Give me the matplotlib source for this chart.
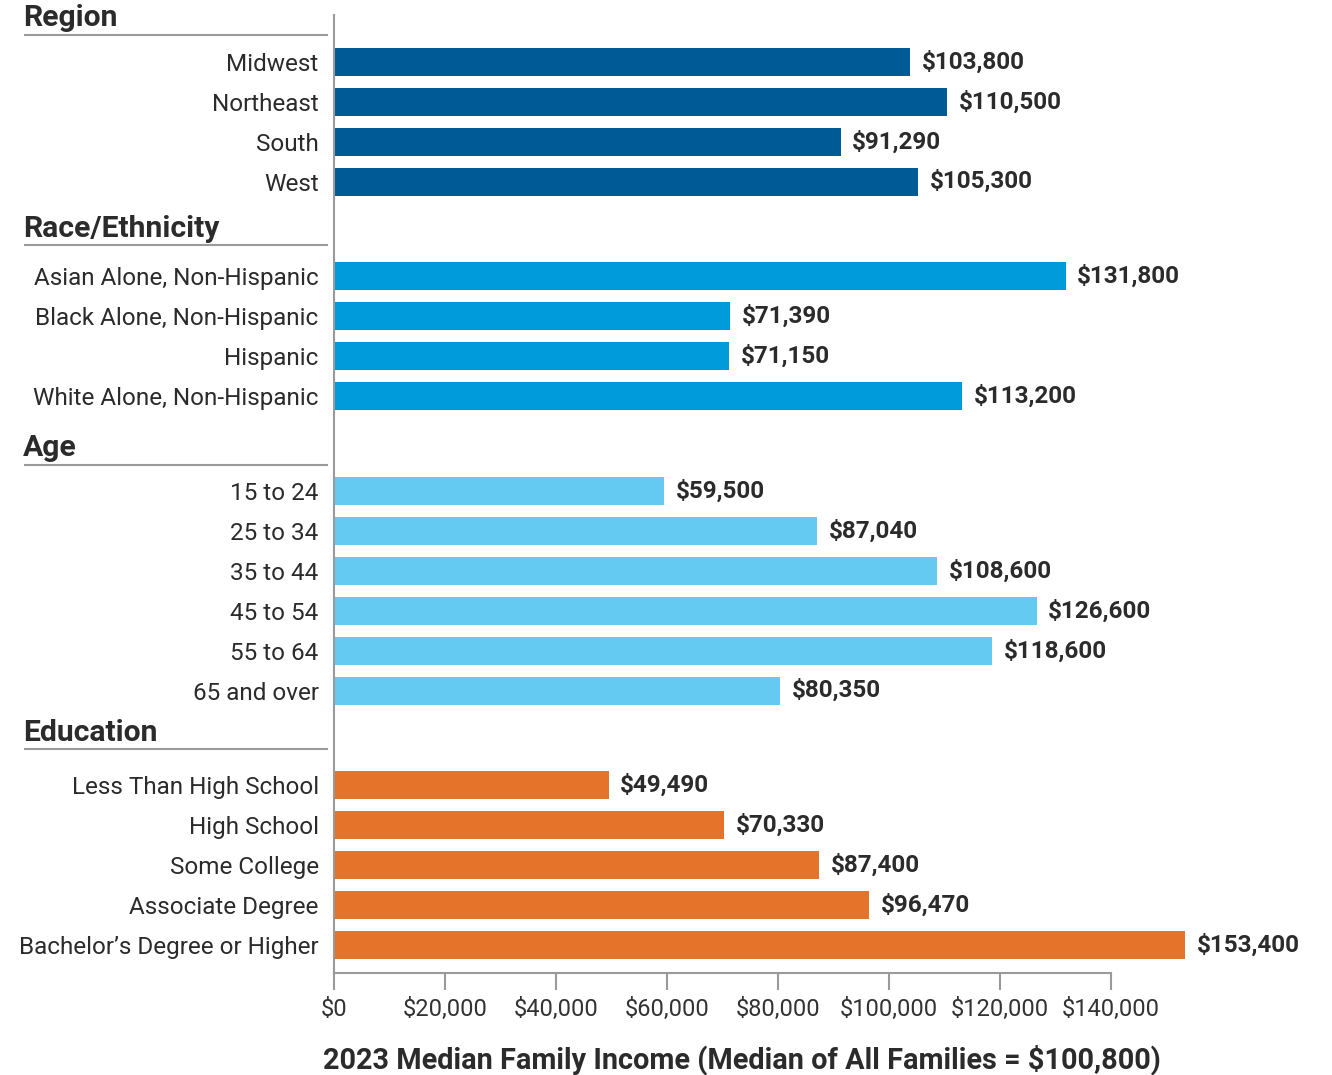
import matplotlib.pyplot as plt
from matplotlib.lines import Line2D
import matplotlib.transforms as mtransforms

plt.rcParams['font.family'] = ['Roboto', 'DejaVu Sans']

# data
groups = ['Region', 'Race/Ethnicity', 'Age', 'Education']
region_labels = ['Midwest', 'Northeast', 'South', 'West']
region_values = [103800, 110500, 91290, 105300]
race_labels = ['Asian Alone, Non-Hispanic', 'Black Alone, Non-Hispanic', 'Hispanic',
               'White Alone, Non-Hispanic']
race_values = [131800, 71390, 71150, 113200]
age_labels = ['15 to 24', '25 to 34', '35 to 44', '45 to 54', '55 to 64', '65 and over']
age_values = [59500, 87040, 108600, 126600, 118600, 80350]
edu_labels = ['Less Than High School', 'High School', 'Some College', 'Associate Degree',
              'Bachelor\u2019s Degree or Higher']
edu_values = [49490, 70330, 87400, 96470, 153400]
xticks = [0, 20000, 40000, 60000, 80000, 100000, 120000, 140000]
xlabel = '2023 Median Family Income (Median of All Families = $100,800)'

colors = ['#005a96', '#009bdb', '#64caf2', '#e5742a']
# distance (in rows) from each group's underline to its first bar
rule_offsets = [0.675, 0.78, 0.65, 0.9]
data = [(region_labels, region_values), (race_labels, race_values),
        (age_labels, age_values), (edu_labels, edu_values)]

fig = plt.figure(figsize=(13.32, 10.75), dpi=100)
W, H = 1332, 1075
ax = fig.add_axes([334 / W, 1 - 973 / H, (1316.4 - 334) / W, (973 - 15) / H])

tick_pos, tick_lab, header_pos = [], [], []
pos = 0.0
for (labels, values), color, off in zip(data, colors, rule_offsets):
    header_pos.append(pos - off)
    ys = [pos + i for i in range(len(labels))]
    ax.barh(ys, values, height=0.7, color=color)
    for y, v in zip(ys, values):
        ax.text(v + 2100, y, f'${v:,}', va='center', ha='left', fontsize=17.5,
                fontweight='bold', color='#2b2b2b')
    tick_pos += ys
    tick_lab += labels
    pos = ys[-1] + 2.375

ax.set_ylim(pos - 2.375 + 0.7, -1.175)
ax.set_xlim(0, 177000)
ax.set_yticks(tick_pos)
ax.set_yticklabels(tick_lab, fontsize=17.5, color='#2b2b2b')
ax.tick_params(axis='y', length=0, pad=11)
ax.set_xticks(xticks)
ax.set_xticklabels(['$0' if t == 0 else f'${t:,}' for t in xticks], fontsize=17,
                   color='#333333')
ax.tick_params(axis='x', length=12, width=1.5, color='#9a9a9a', pad=6)
ax.set_xlabel(xlabel, fontsize=20.8, fontweight='bold', color='#2b2b2b')
ax.xaxis.set_label_coords(742 / W, 1 - 1060 / H, transform=fig.transFigure)
ax.xaxis.label.set_va('center')

for s in ['top', 'right']:
    ax.spines[s].set_visible(False)
for s in ['left', 'bottom']:
    ax.spines[s].set_color('#9a9a9a')
    ax.spines[s].set_linewidth(1.5)
ax.spines['bottom'].set_bounds(0, 140000)

trans = mtransforms.blended_transform_factory(fig.transFigure, ax.transData)
for g, hp in zip(groups, header_pos):
    ax.text(23 / W, hp - 0.22, g, transform=trans, ha='left', va='baseline', fontsize=21.7,
            fontweight='bold', color='#2b2b2b', clip_on=False)
    ax.add_line(Line2D([25 / W, 327 / W], [hp, hp], transform=trans,
                       color='#9a9a9a', linewidth=1.5, clip_on=False))

fig.savefig('out.png', dpi=100)
